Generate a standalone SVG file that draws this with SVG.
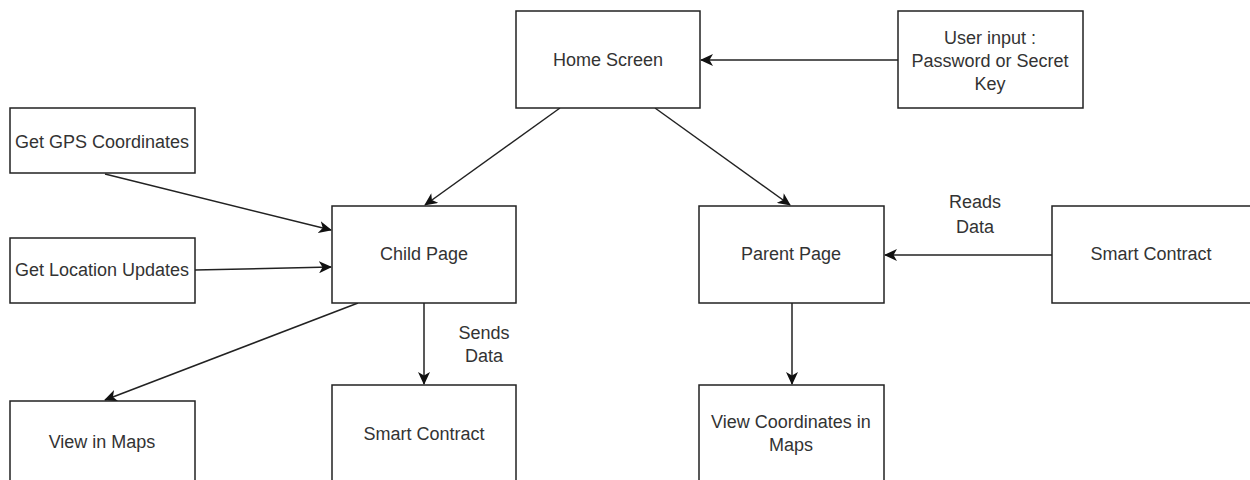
<svg xmlns="http://www.w3.org/2000/svg" width="1250" height="480" viewBox="0 0 1250 480">
  <style>
    .box { fill: #ffffff; stroke: #222222; stroke-width: 1.5; }
    .lbl { font-family: "Liberation Sans", Arial, sans-serif; font-size: 18px; fill: #333333; text-anchor: middle; }
    .edge { fill: none; stroke: #222222; stroke-width: 1.5; marker-end: url(#arrow); }
  </style>
  <defs>
    <marker id="arrow" markerWidth="14" markerHeight="12" refX="12" refY="6" orient="auto" markerUnits="userSpaceOnUse">
      <path d="M0,0 L13,6 L0,12 L3.5,6 Z" fill="#111111"/>
    </marker>
  </defs>
  <rect width="1250" height="480" fill="#ffffff"/>

  <!-- connectors -->
  <g id="connectors">
    <line class="edge" x1="898" y1="60" x2="701" y2="60"/>
    <line class="edge" x1="560" y1="108" x2="425" y2="205"/>
    <line class="edge" x1="655" y1="108" x2="790" y2="205"/>
    <line class="edge" x1="105" y1="174" x2="331" y2="230"/>
    <line class="edge" x1="195" y1="270" x2="331" y2="267"/>
    <line class="edge" x1="358" y1="303" x2="105" y2="400"/>
    <line class="edge" x1="424" y1="303" x2="424" y2="384"/>
    <line class="edge" x1="792" y1="303" x2="792" y2="384"/>
    <line class="edge" x1="1052" y1="255" x2="885" y2="255"/>
    <text class="lbl" x="484" y="339">Sends</text>
    <text class="lbl" x="484" y="362">Data</text>
    <text class="lbl" x="975" y="208">Reads</text>
    <text class="lbl" x="975" y="233">Data</text>
  </g>

  <g id="home-screen">
    <rect class="box" x="516" y="11" width="184" height="97"/>
    <text class="lbl" x="608" y="66">Home Screen</text>
  </g>

  <g id="user-input">
    <rect class="box" x="898" y="11" width="185" height="97"/>
    <text class="lbl" x="990" y="44">User input :</text>
    <text class="lbl" x="990" y="67">Password or Secret</text>
    <text class="lbl" x="990" y="90">Key</text>
  </g>

  <g id="get-gps">
    <rect class="box" x="10" y="108" width="185" height="65"/>
    <text class="lbl" x="102" y="148">Get GPS Coordinates</text>
  </g>

  <g id="get-location">
    <rect class="box" x="10" y="238" width="185" height="65"/>
    <text class="lbl" x="102" y="276">Get Location Updates</text>
  </g>

  <g id="child-page">
    <rect class="box" x="332" y="206" width="184" height="97"/>
    <text class="lbl" x="424" y="260">Child Page</text>
  </g>

  <g id="parent-page">
    <rect class="box" x="699" y="206" width="185" height="97"/>
    <text class="lbl" x="791" y="260">Parent Page</text>
  </g>

  <g id="smart-contract-right">
    <rect class="box" x="1052" y="206" width="210" height="97"/>
    <text class="lbl" x="1151" y="260">Smart Contract</text>
  </g>

  <g id="view-in-maps">
    <rect class="box" x="10" y="401" width="185" height="100"/>
    <text class="lbl" x="102" y="448">View in Maps</text>
  </g>

  <g id="smart-contract-bottom">
    <rect class="box" x="332" y="385" width="184" height="120"/>
    <text class="lbl" x="424" y="440">Smart Contract</text>
  </g>

  <g id="view-coordinates">
    <rect class="box" x="699" y="385" width="185" height="120"/>
    <text class="lbl" x="791" y="428">View Coordinates in</text>
    <text class="lbl" x="791" y="451">Maps</text>
  </g>
</svg>
